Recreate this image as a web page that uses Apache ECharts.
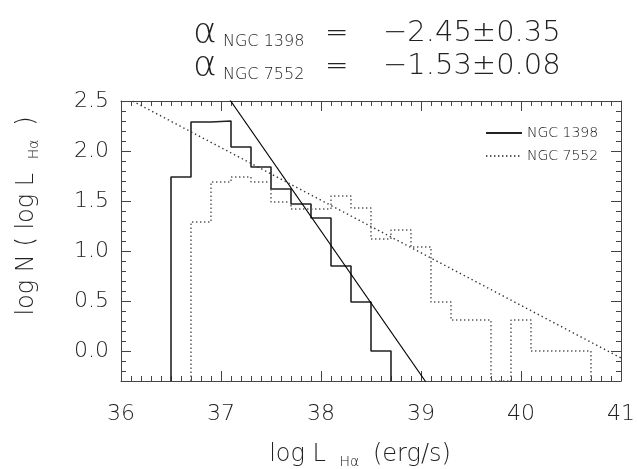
<!DOCTYPE html>
<html>
<head>
<meta charset="utf-8">
<script src="https://cdn.jsdelivr.net/npm/echarts@6/dist/echarts.min.js"></script>
<style>
  html, body { margin: 0; padding: 0; background: #fff; }
  #chart { width: 637px; height: 469px; }
</style>
</head>
<body>
<div id="chart"></div>
<script>
// histogram bins are 0.2 dex wide in log L_Ha
const binWidth = 0.2
const ngc1398Start = 36.5
const ngc1398LogN = [1.74, 2.29, 2.30, 2.04, 1.84, 1.62, 1.47, 1.33, 0.85, 0.49, 0.0]
const ngc7552Start = 36.7
// null = empty bin (log N -> -inf)
const ngc7552LogN = [1.29, 1.69, 1.74, 1.69, 1.49, 1.42, 1.42, 1.55, 1.43, 1.12,
                     1.21, 1.04, 0.49, 0.31, 0.31, null, 0.31, 0.0, 0.0, 0.0]

// power law fits: slope and one point on the line [logL, logN]
const fit1398Slope = -1.44
const fit1398Point = [37.507, 1.91]
const fit7552Slope = -0.526
const fit7552Point = [36.0, 2.56]

const seriesNames = ['NGC 1398', 'NGC 7552']
const alphaLabels = ['−2.45±0.35', '−1.53±0.08']

const xMin = 36, xMax = 41
const yMin = -0.3, yMax = 2.5
const yMajorTicks = [0.0, 0.5, 1.0, 1.5, 2.0, 2.5]
const yMinorTicks = Array.from({ length: 29 }, (_, i) => +(yMin + i * 0.1).toFixed(1))

const FONT = "'DejaVu Sans', sans-serif"
const INK = '#222'
const AXIS = '#444'

const stepPoints = (start, values) => {
  const pts = [[start, yMin]]
  values.forEach((v, i) => {
    const y = v === null ? yMin : v
    const left = +(start + i * binWidth).toFixed(2)
    const right = +(left + binWidth).toFixed(2)
    pts.push([left, y], [right, y])
  })
  pts.push([+(start + values.length * binWidth).toFixed(2), yMin])
  return pts
}

const fitLine = (slope, p) => [xMin, xMax].map(x => [x, p[1] + slope * (x - p[0])])

// mirrored axes keep an empty label so their ticks are still drawn
const blankLabel = { show: true, formatter: () => '' }

const xAxisCfg = (pos) => ({
  type: 'value', position: pos, min: xMin, max: xMax, interval: 1,
  splitLine: { show: false },
  axisLine: { show: true, onZero: false, lineStyle: { color: AXIS, width: 1 } },
  axisTick: { show: true, inside: true, length: 10, lineStyle: { color: AXIS } },
  minorTick: { show: true, splitNumber: 10, length: 5, lineStyle: { color: AXIS } },
  axisLabel: blankLabel
})

const yAxisCfg = (pos, ticks, len, showLine) => ({
  type: 'value', position: pos, min: yMin, max: yMax,
  splitLine: { show: false },
  axisLine: { show: showLine, onZero: false, lineStyle: { color: AXIS, width: 1 } },
  axisTick: { show: true, inside: true, length: len, customValues: ticks, lineStyle: { color: AXIS } },
  axisLabel: { show: true, customValues: ticks, formatter: () => '' }
})

const subRich = {
  m: { fontFamily: FONT, fontSize: 24, color: INK, lineHeight: 28, fontWeight: 'lighter' },
  s: { fontFamily: FONT, fontSize: 14, color: INK, fontWeight: 'lighter', verticalAlign: 'bottom', padding: [13, 6, 0, 6] }
}

// empty series so the mirrored axes are laid out too
const axisHolder = (xi, yi) => ({
  type: 'line', xAxisIndex: xi, yAxisIndex: yi, data: [], silent: true, symbol: 'none'
})

const chart = echarts.init(document.getElementById('chart'))

const yLeft = yAxisCfg('left', yMajorTicks, 10, true)
yLeft.axisLabel = {
  show: true, customValues: yMajorTicks, margin: 12,
  fontFamily: FONT, fontSize: 22, color: INK, fontWeight: 'lighter',
  formatter: v => v.toFixed(1)
}
yLeft.name = '{m|log N ( log L }{s|Hα}{m| )}'
yLeft.nameLocation = 'middle'
yLeft.nameRotate = 90
yLeft.nameGap = 80
yLeft.nameTextStyle = { rich: subRich, padding: [0, 0, 0, 50] }

const xBottom = xAxisCfg('bottom')
xBottom.axisLabel = { show: true, margin: 22, fontFamily: FONT, fontSize: 22, color: INK, fontWeight: 'lighter' }
xBottom.name = '{m|log L }{s|Hα}{m| (erg/s)}'
xBottom.nameLocation = 'middle'
xBottom.nameGap = 60
xBottom.nameTextStyle = { rich: subRich, padding: [0, 22, 0, 0] }

const option = {
  animation: false,
  backgroundColor: '#fff',
  title: {
    left: 188,
    top: 12,
    text: seriesNames.map((n, i) => `{g|α}{s|${n}}{e|=}{n|${alphaLabels[i]}}`).join('\n'),
    textStyle: {
      fontWeight: 'normal',
      rich: {
        g: { fontFamily: FONT, fontSize: 36, color: INK, width: 30, lineHeight: 33, fontWeight: 'lighter' },
        s: { fontFamily: FONT, fontSize: 16, fontWeight: 'lighter', color: INK, width: 102, lineHeight: 33, verticalAlign: 'bottom', padding: [16, 0, 0, 0] },
        e: { fontFamily: FONT, fontSize: 28, color: INK, width: 58, lineHeight: 33, fontWeight: 'lighter' },
        n: { fontFamily: FONT, fontSize: 29, color: INK, lineHeight: 33, fontWeight: 'lighter' }
      }
    }
  },
  legend: {
    data: seriesNames,
    orient: 'vertical',
    left: 480,
    top: 121,
    itemWidth: 36,
    itemHeight: 10,
    itemGap: 9,
    itemStyle: { opacity: 0 },
    textStyle: { fontFamily: FONT, fontSize: 14, color: '#111', fontWeight: 'lighter' }
  },
  grid: { left: 121, right: 16, top: 101, bottom: 88, outerBoundsMode: 'none' },
  xAxis: [xBottom, xAxisCfg('top')],
  yAxis: [
    yLeft,
    yAxisCfg('left', yMinorTicks, 5, false),
    yAxisCfg('right', yMajorTicks, 10, true),
    yAxisCfg('right', yMinorTicks, 5, false)
  ],
  series: [
    {
      name: seriesNames[0],
      type: 'line',
      symbol: 'none',
      clip: true,
      data: stepPoints(ngc1398Start, ngc1398LogN),
      lineStyle: { color: '#222', width: 1.6, type: 'solid' },
      itemStyle: { color: '#222' }
    },
    {
      name: seriesNames[1],
      type: 'line',
      symbol: 'none',
      clip: true,
      data: stepPoints(ngc7552Start, ngc7552LogN),
      lineStyle: { color: '#555', width: 1.4, type: [1.4, 2.6] },
      itemStyle: { color: '#555' }
    },
    {
      name: 'fit 1398',
      type: 'line',
      symbol: 'none',
      clip: true,
      data: fitLine(fit1398Slope, fit1398Point),
      lineStyle: { color: '#000', width: 1.1 }
    },
    {
      name: 'fit 7552',
      type: 'line',
      symbol: 'none',
      clip: true,
      data: fitLine(fit7552Slope, fit7552Point),
      lineStyle: { color: '#333', width: 1.4, type: [1.4, 3] }
    },
    axisHolder(1, 1),
    axisHolder(1, 2),
    axisHolder(0, 3)
  ]
}

chart.setOption(option)
</script>
</body>
</html>
